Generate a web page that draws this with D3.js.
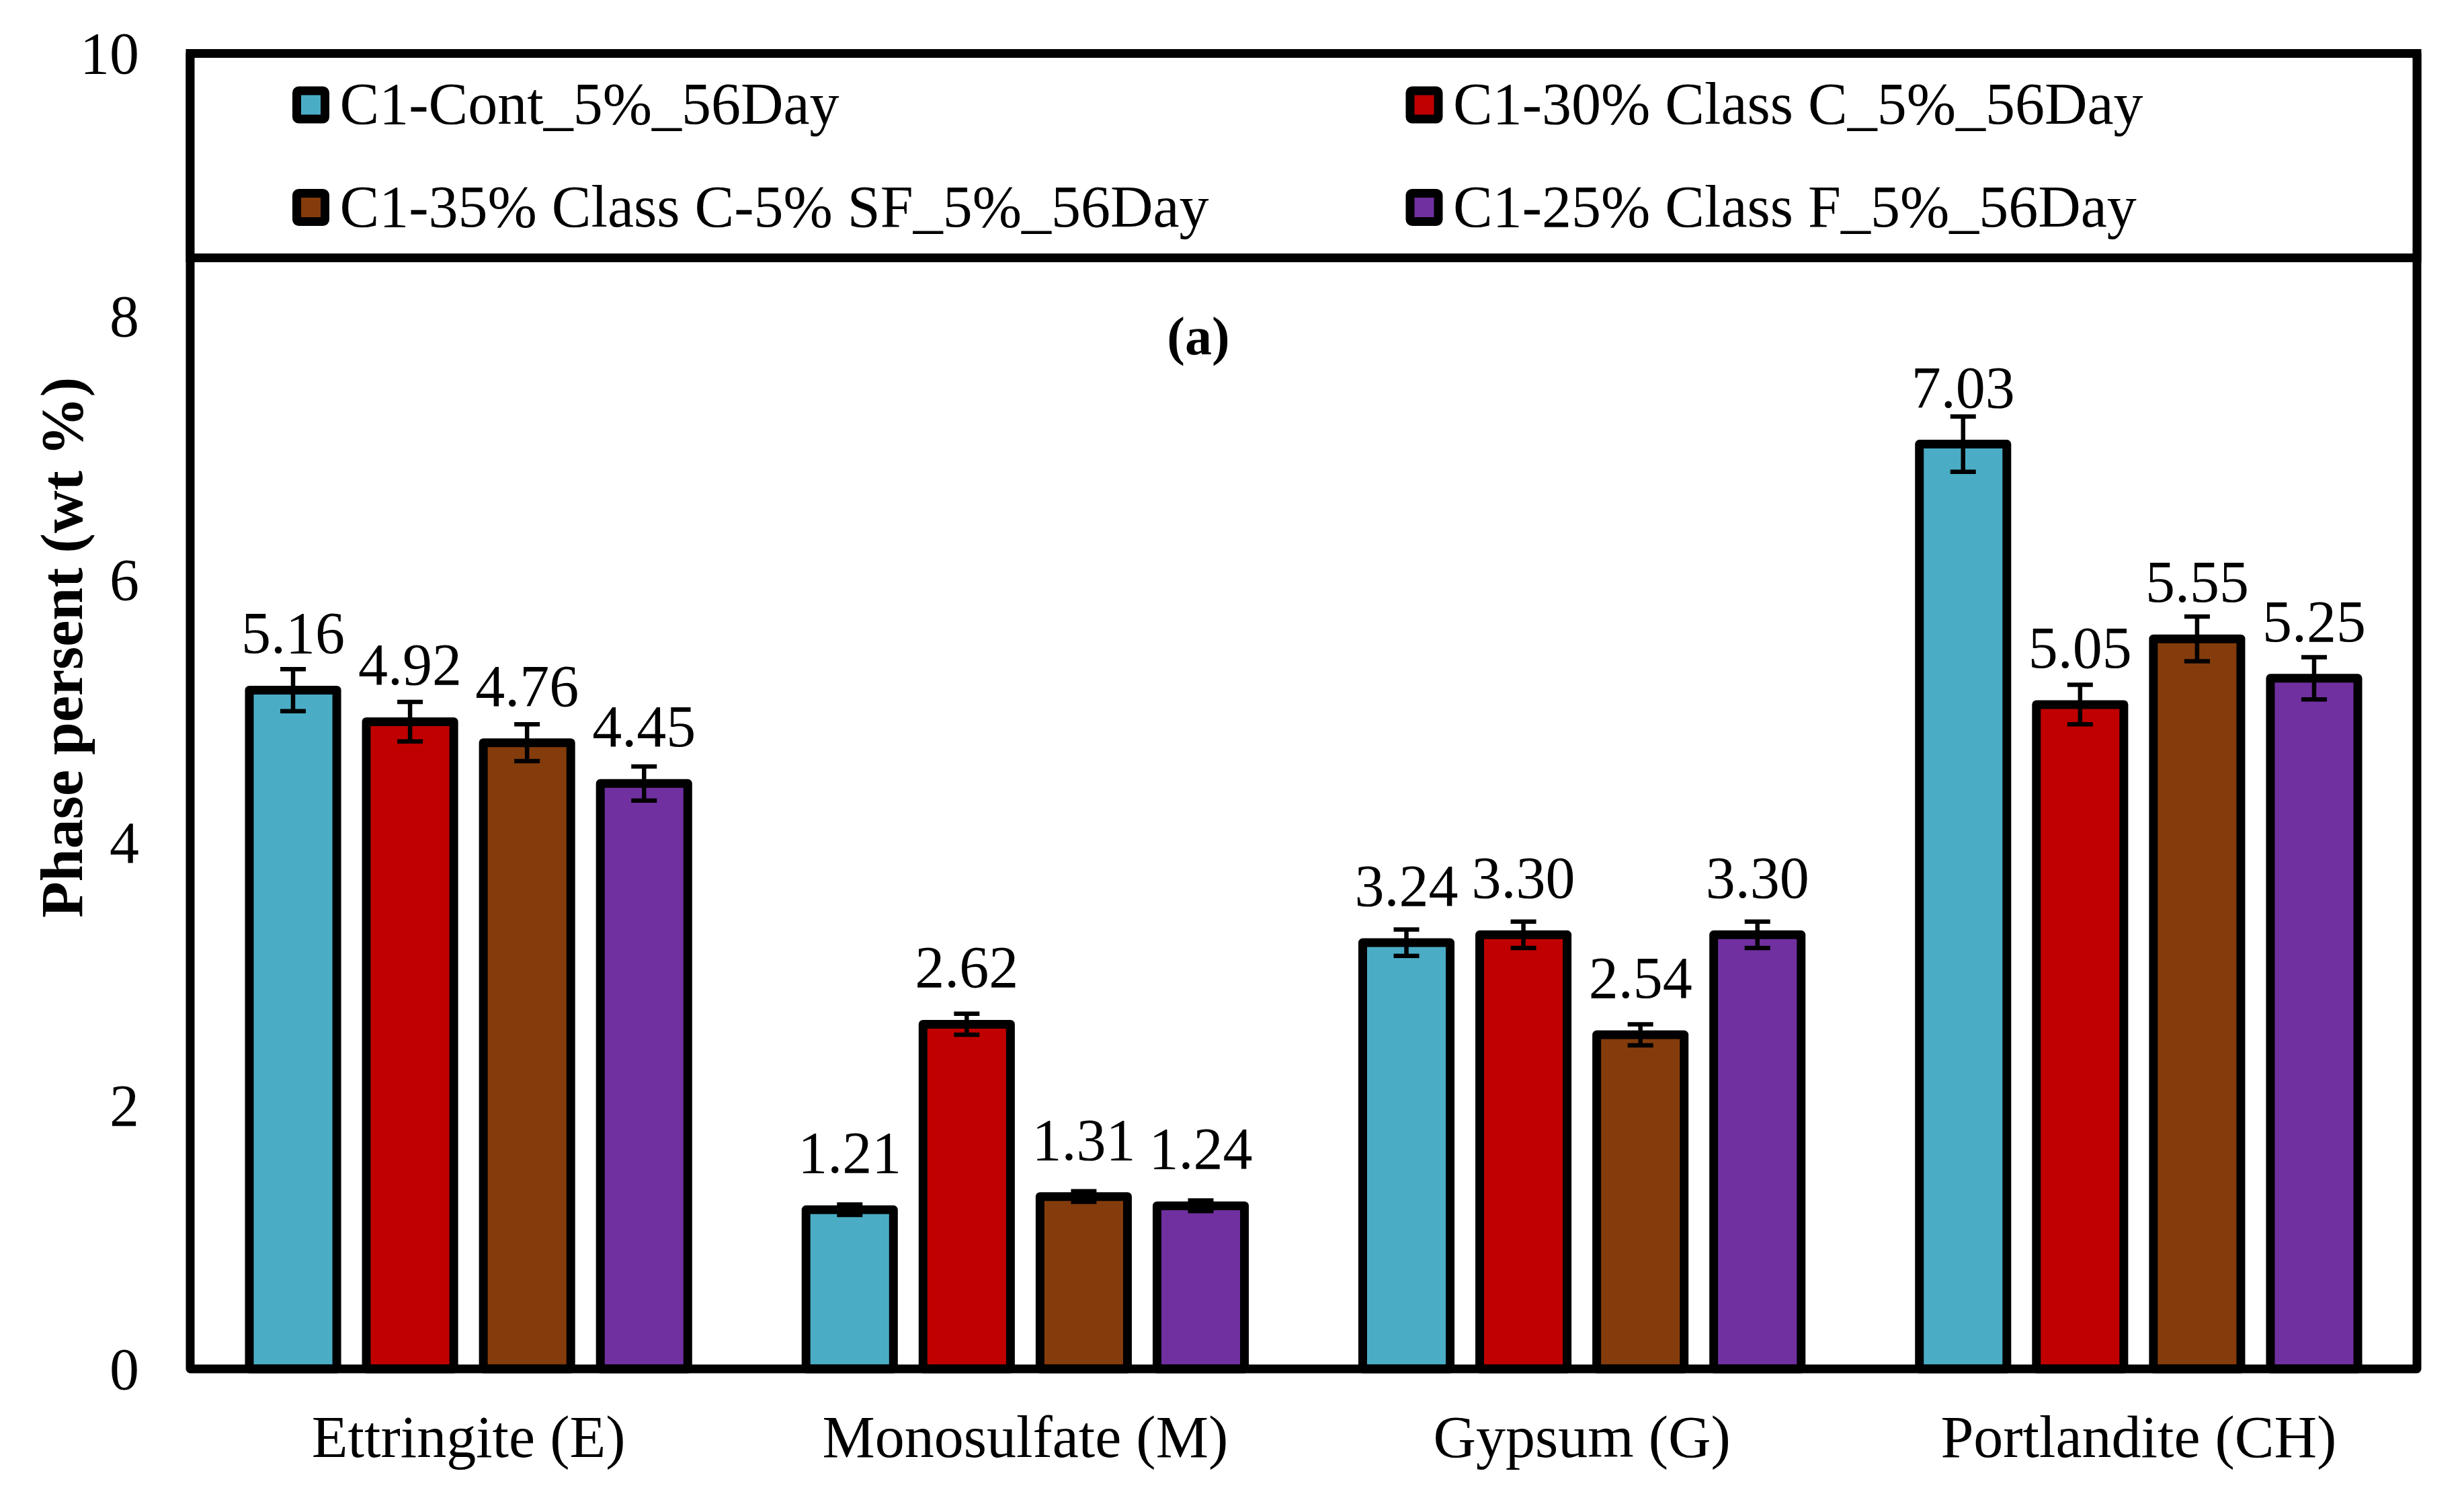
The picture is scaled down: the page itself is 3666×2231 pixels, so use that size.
<!DOCTYPE html>
<html>
<head>
<meta charset="utf-8">
<script src="https://cdn.jsdelivr.net/npm/d3@7"></script>
<style>
  body { margin: 0; background: #fff; }
  svg { display: block; }
</style>
</head>
<body>
<svg id="chart"></svg>
<script>
const categories = ["Ettringite (E)", "Monosulfate (M)", "Gypsum (G)", "Portlandite (CH)"];
const seriesNames = [
  "C1-Cont_5%_56Day",
  "C1-30% Class C_5%_56Day",
  "C1-35% Class C-5% SF_5%_56Day",
  "C1-25% Class F_5%_56Day"
];
const seriesColors = ["#4BACC6", "#C00000", "#843C0C", "#7030A0"];

// phase percent (wt %) per series, in category order
const contValues = [5.16, 1.21, 3.24, 7.03];
const classC30Values = [4.92, 2.62, 3.30, 5.05];
const classC35SFValues = [4.76, 1.31, 2.54, 5.55];
const classF25Values = [4.45, 1.24, 3.30, 5.25];

// error bar half-widths
const contErr = [0.16, 0.04, 0.10, 0.21];
const classC30Err = [0.15, 0.08, 0.10, 0.15];
const classC35SFErr = [0.14, 0.04, 0.08, 0.17];
const classF25Err = [0.13, 0.04, 0.10, 0.16];

const yTicks = [0, 2, 4, 6, 8, 10];

const allValues = [contValues, classC30Values, classC35SFValues, classF25Values];
const allErr = [contErr, classC30Err, classC35SFErr, classF25Err];

const width = 3666, height = 2231;
const plot = { left: 283, right: 3596, top: 79.5, bottom: 2036 };
const font = "'Liberation Serif', 'Times New Roman', serif";
const fontSize = 88;

const svg = d3.select("#chart").attr("width", width).attr("height", height);

const x0 = d3.scaleBand().domain(categories).range([plot.left, plot.right]);
const x1 = d3.scaleBand().domain(seriesNames).range([0, x0.bandwidth()])
  .paddingInner(0.178).paddingOuter(0.468);
const y = d3.scaleLinear().domain([0, 10]).range([plot.bottom, plot.top]);

const barStroke = 13;

// flatten into one record per bar
const bars = [];
categories.forEach((c, ci) => {
  seriesNames.forEach((s, si) => {
    bars.push({ cat: c, series: s, color: seriesColors[si], value: allValues[si][ci], err: allErr[si][ci] });
  });
});

const g = svg.append("g");

// bars
g.selectAll("rect.bar")
  .data(bars)
  .enter()
  .append("rect")
  .attr("class", "bar")
  .attr("x", d => x0(d.cat) + x1(d.series) + barStroke / 2)
  .attr("width", x1.bandwidth() - barStroke)
  .attr("y", d => y(d.value))
  .attr("height", d => y(0) - y(d.value))
  .style("fill", d => d.color)
  .style("stroke", "#000")
  .style("stroke-width", barStroke)
  .style("stroke-linejoin", "round");

// error bars
const capHalf = 19;
const errG = g.selectAll("g.err")
  .data(bars)
  .enter()
  .append("g")
  .attr("class", "err")
  .style("stroke", "#000")
  .style("stroke-width", 6.5);

errG.append("line")
  .attr("x1", d => x0(d.cat) + x1(d.series) + x1.bandwidth() / 2)
  .attr("x2", d => x0(d.cat) + x1(d.series) + x1.bandwidth() / 2)
  .attr("y1", d => y(d.value + d.err))
  .attr("y2", d => y(d.value - d.err));

errG.append("line")
  .attr("x1", d => x0(d.cat) + x1(d.series) + x1.bandwidth() / 2 - capHalf)
  .attr("x2", d => x0(d.cat) + x1(d.series) + x1.bandwidth() / 2 + capHalf)
  .attr("y1", d => y(d.value + d.err))
  .attr("y2", d => y(d.value + d.err));

errG.append("line")
  .attr("x1", d => x0(d.cat) + x1(d.series) + x1.bandwidth() / 2 - capHalf)
  .attr("x2", d => x0(d.cat) + x1(d.series) + x1.bandwidth() / 2 + capHalf)
  .attr("y1", d => y(d.value - d.err))
  .attr("y2", d => y(d.value - d.err));

// value labels
g.selectAll("text.val")
  .data(bars)
  .enter()
  .append("text")
  .attr("class", "val")
  .attr("x", d => x0(d.cat) + x1(d.series) + x1.bandwidth() / 2)
  .attr("y", d => y(d.value) - 55)
  .style("text-anchor", "middle")
  .style("font-family", font)
  .style("font-size", fontSize + "px")
  .style("fill", "#000")
  .text(d => d.value.toFixed(2));

// plot frame
svg.append("rect")
  .attr("x", plot.left)
  .attr("y", plot.top)
  .attr("width", plot.right - plot.left)
  .attr("height", plot.bottom - plot.top)
  .style("fill", "none")
  .style("stroke", "#000")
  .style("stroke-width", 13)
  .style("stroke-linejoin", "round");

// y axis (labels only, no tick marks)
const yAxis = d3.axisLeft(y).tickValues(yTicks).tickSize(0).tickPadding(0);
const yAxisG = svg.append("g")
  .attr("transform", `translate(207,0)`)
  .call(yAxis);
yAxisG.select(".domain").remove();
yAxisG.selectAll("text")
  .attr("x", 0)
  .attr("dy", "0.33em")
  .style("font-family", font)
  .style("font-size", fontSize + "px")
  .style("fill", "#000");

// x axis category labels
const xAxis = d3.axisBottom(x0).tickSize(0).tickPadding(0);
const xAxisG = svg.append("g")
  .attr("transform", `translate(0,2167)`)
  .call(xAxis);
xAxisG.select(".domain").remove();
xAxisG.selectAll("text")
  .attr("y", 0)
  .attr("dy", 0)
  .style("font-family", font)
  .style("font-size", fontSize + "px")
  .style("fill", "#000");

// y axis title
svg.append("text")
  .attr("transform", "translate(122, 963) rotate(-90)")
  .style("text-anchor", "middle")
  .style("font-family", font)
  .style("font-weight", "bold")
  .style("font-size", fontSize + "px")
  .style("fill", "#000")
  .text("Phase persent (wt %)");

// panel tag
svg.append("text")
  .attr("x", 1783)
  .attr("y", 527)
  .style("text-anchor", "middle")
  .style("font-family", font)
  .style("font-weight", "bold")
  .style("font-size", "80px")
  .style("fill", "#000")
  .text("(a)");

// legend box across the top of the plot
svg.append("rect")
  .attr("x", plot.left)
  .attr("y", plot.top)
  .attr("width", plot.right - plot.left)
  .attr("height", 383.5 - plot.top)
  .style("fill", "#fff")
  .style("stroke", "#000")
  .style("stroke-width", 13);

const legendCols = [462.5, 2119];
const legendRows = [156, 308.5];
const legend = svg.selectAll("g.legend")
  .data(seriesNames)
  .enter()
  .append("g")
  .attr("class", "legend")
  .attr("transform", (d, i) => `translate(${legendCols[i % 2]},${legendRows[Math.floor(i / 2)]})`);

legend.append("rect")
  .attr("x", -21)
  .attr("y", -21)
  .attr("width", 42)
  .attr("height", 42)
  .attr("rx", 3)
  .style("fill", (d, i) => seriesColors[i])
  .style("stroke", "#000")
  .style("stroke-width", 13)
  .style("stroke-linejoin", "round");

legend.append("text")
  .attr("x", 43)
  .attr("y", 28)
  .style("font-family", font)
  .style("font-size", fontSize + "px")
  .style("fill", "#000")
  .text(d => d);
</script>
</body>
</html>
